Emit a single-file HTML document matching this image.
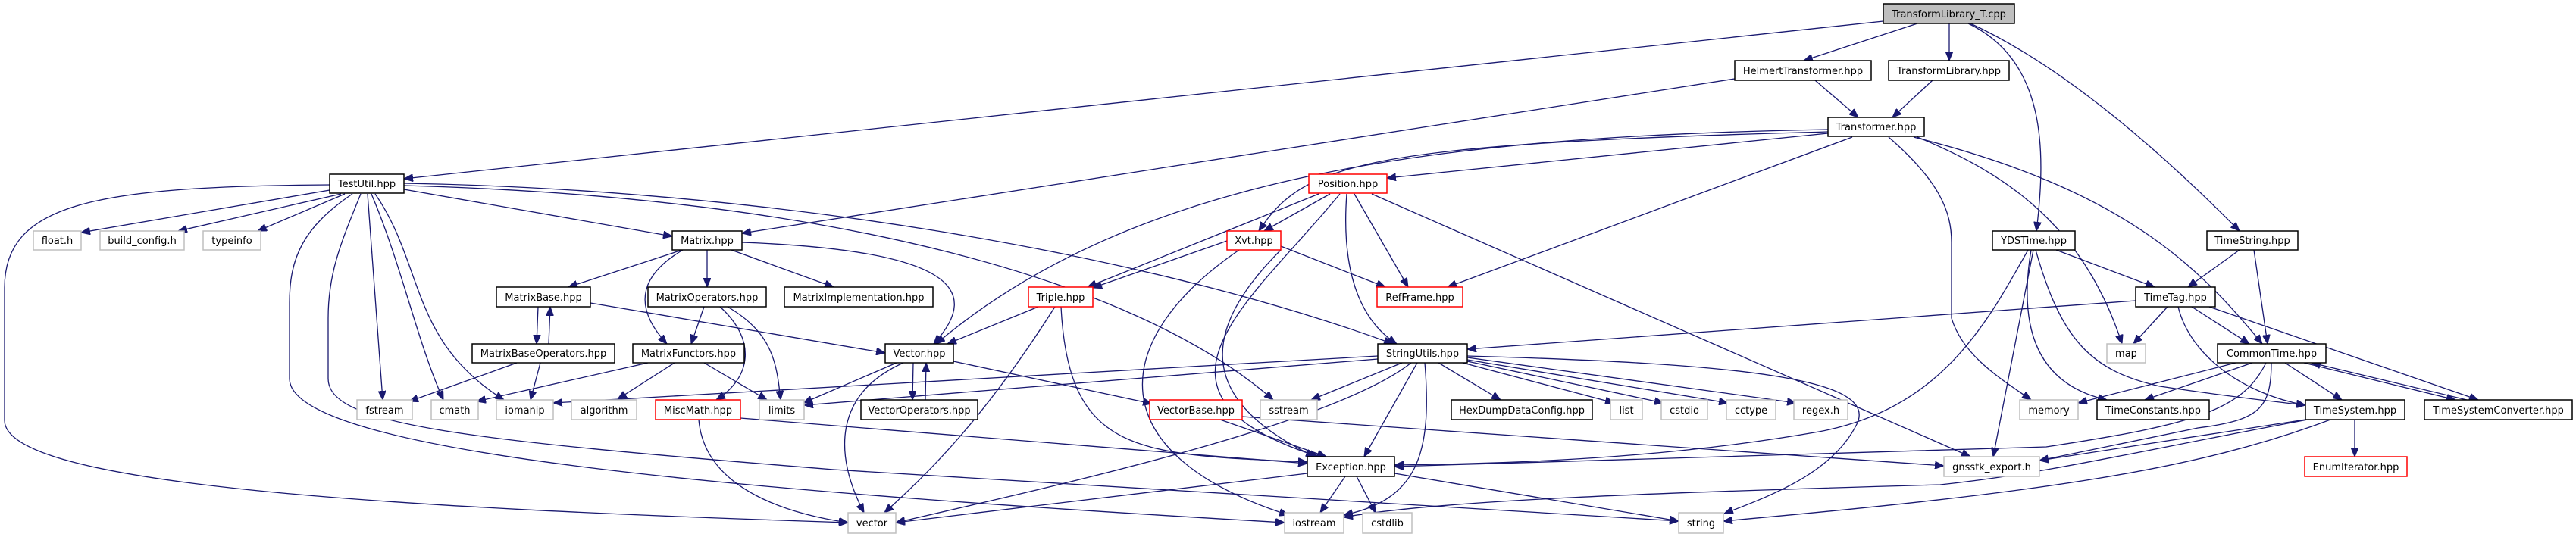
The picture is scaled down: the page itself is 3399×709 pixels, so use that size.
<!DOCTYPE html>
<html><head><meta charset="utf-8"><style>
html,body{margin:0;padding:0;background:#fff;}
svg{display:block;}
text{font-family:"DejaVu Sans","Liberation Sans",sans-serif;font-size:13px;fill:#000;}
.e{fill:none;stroke:#191970;stroke-width:1.3;marker-end:url(#a);}
.n{fill:#fff;stroke:#000;stroke-width:1.5;}
.r{fill:#fff;stroke:#ff0000;stroke-width:1.5;}
.g{fill:#fff;stroke:#bfbfbf;stroke-width:1.5;}
.root{fill:#bfbfbf;stroke:#000;stroke-width:1.5;}
</style></head><body>
<svg width="3399" height="709" viewBox="0 0 3399 709" xmlns="http://www.w3.org/2000/svg">
<defs><marker id="a" markerUnits="userSpaceOnUse" markerWidth="12" markerHeight="10" refX="12" refY="5" orient="auto"><path d="M0,0 L12,5 L0,10 z" fill="#191970" stroke="#191970"/></marker></defs>
<g>
<path class="e" d="M2485,28 L533,236"/>
<path class="e" d="M2530,31 L2380,80"/>
<path class="e" d="M2572,31 L2572,80"/>
<path class="e" d="M2597,31 C2700,80 2700,200 2687,305"/>
<path class="e" d="M2600,31 C2750,100 2900,250 2955,305"/>
<path class="e" d="M2289,104 L979,308"/>
<path class="e" d="M2395,106 L2452,155"/>
<path class="e" d="M2550,106 L2497,155"/>
<path class="e" d="M2412,171 C1900,180 1500,230 1235,454"/>
<path class="e" d="M2412,174 C1800,190 1720,215 1661,305"/>
<path class="e" d="M2412,176 L1830,235"/>
<path class="e" d="M2444,181 L1910,379"/>
<path class="e" d="M2492,181 C2560,240 2575,280 2575,320 L2575,420 C2590,470 2640,500 2680,528"/>
<path class="e" d="M2530,181 C2650,230 2750,300 2800,454"/>
<path class="e" d="M2525,181 C2800,250 2900,350 2985,454"/>
<path class="e" d="M435,251 L107,307"/>
<path class="e" d="M450,256 L235,305"/>
<path class="e" d="M455,256 L340,305"/>
<path class="e" d="M485,256 L505,528"/>
<path class="e" d="M490,256 C530,350 550,450 585,528"/>
<path class="e" d="M495,256 C560,350 540,450 665,528"/>
<path class="e" d="M435,244 C120,246 6,270 6,380 L6,555 C6,640 500,670 1119,690"/>
<path class="e" d="M465,256 C400,300 382,340 382,400 L382,500 C382,600 1000,650 1695,690"/>
<path class="e" d="M476,256 C450,320 433,360 433,420 L433,500 C433,560 600,580 1100,620 L2215,688"/>
<path class="e" d="M533,250 L887,312"/>
<path class="e" d="M533,242 C1000,250 1500,330 1838,454"/>
<path class="e" d="M533,245 C1100,260 1500,370 1680,528"/>
<path class="e" d="M1740,256 L1435,379"/>
<path class="e" d="M1755,256 L1668,305"/>
<path class="e" d="M1787,256 L1858,379"/>
<path class="e" d="M1777,256 C1770,350 1790,420 1843,454"/>
<path class="e" d="M1810,256 L2600,603"/>
<path class="e" d="M1768,256 C1650,400 1480,520 1740,603"/>
<path class="e" d="M1619,318 L1442,380"/>
<path class="e" d="M1690,325 L1828,379"/>
<path class="e" d="M1635,330 C1460,450 1450,600 1700,680"/>
<path class="e" d="M1690,330 C1600,420 1560,520 1735,603"/>
<path class="e" d="M900,330 L750,379"/>
<path class="e" d="M933,330 L933,379"/>
<path class="e" d="M965,330 L1100,379"/>
<path class="e" d="M901,330 C850,360 830,400 880,454"/>
<path class="e" d="M979,320 C1250,330 1300,380 1232,454"/>
<path class="e" d="M710,405 L708,454"/>
<path class="e" d="M724,454 L726,405"/>
<path class="e" d="M779,400 L1168,466"/>
<path class="e" d="M682,479 L540,530"/>
<path class="e" d="M713,479 L700,528"/>
<path class="e" d="M929,405 L912,454"/>
<path class="e" d="M950,405 C1000,450 990,500 945,528"/>
<path class="e" d="M960,405 C1020,440 1025,480 1030,528"/>
<path class="e" d="M855,479 L629,530"/>
<path class="e" d="M890,479 L815,527"/>
<path class="e" d="M929,479 L1012,528"/>
<path class="e" d="M1183,479 L1060,532"/>
<path class="e" d="M1192,479 C1100,520 1100,600 1140,677"/>
<path class="e" d="M1205,479 L1204,528"/>
<path class="e" d="M1221,528 L1222,479"/>
<path class="e" d="M1258,477 L1520,533"/>
<path class="e" d="M1370,405 L1250,454"/>
<path class="e" d="M1392,405 C1300,550 1230,620 1167,677"/>
<path class="e" d="M1400,405 C1410,600 1500,600 1725,610"/>
<path class="e" d="M922,554 C930,650 1050,680 1119,690"/>
<path class="e" d="M977,552 L1725,612"/>
<path class="e" d="M1610,554 L1750,603"/>
<path class="e" d="M1639,550 L2565,615"/>
<path class="e" d="M1850,479 L1730,528"/>
<path class="e" d="M1898,479 L1980,528"/>
<path class="e" d="M1930,479 L2130,532"/>
<path class="e" d="M1936,477 L2195,532"/>
<path class="e" d="M1936,475 L2280,532"/>
<path class="e" d="M1936,472 L2370,532"/>
<path class="e" d="M1936,470 C2300,480 2480,500 2450,560 C2420,620 2350,650 2275,678"/>
<path class="e" d="M1870,479 L1800,603"/>
<path class="e" d="M1862,479 C1760,560 1400,640 1182,690"/>
<path class="e" d="M1880,479 C1890,600 1870,660 1773,680"/>
<path class="e" d="M1818,470 L730,532"/>
<path class="e" d="M1818,474 L1061,535"/>
<path class="e" d="M1725,625 L1182,690"/>
<path class="e" d="M1775,629 L1742,677"/>
<path class="e" d="M1790,629 L1815,677"/>
<path class="e" d="M1840,625 L2215,688"/>
<path class="e" d="M2713,330 L2843,379"/>
<path class="e" d="M2676,330 C2620,430 2560,540 2400,570 C2200,605 2000,612 1840,614"/>
<path class="e" d="M2683,330 L2630,603"/>
<path class="e" d="M2680,330 C2660,450 2700,510 2780,528"/>
<path class="e" d="M2686,330 C2720,450 2760,490 2850,510 C2950,525 3000,530 3042,535"/>
<path class="e" d="M2955,330 L2887,379"/>
<path class="e" d="M2974,330 L2992,454"/>
<path class="e" d="M2818,397 L1936,461"/>
<path class="e" d="M2860,405 L2815,454"/>
<path class="e" d="M2892,405 L2968,454"/>
<path class="e" d="M2874,405 C2890,470 2960,520 3042,535"/>
<path class="e" d="M2915,405 L3270,528"/>
<path class="e" d="M2950,479 L2742,532"/>
<path class="e" d="M2972,479 L2830,528"/>
<path class="e" d="M3015,479 L3090,528"/>
<path class="e" d="M3040,479 L3240,528"/>
<path class="e" d="M3255,528 L3050,479"/>
<path class="e" d="M2990,479 C2960,540 2900,560 2700,590 L1840,616"/>
<path class="e" d="M2997,479 C2997,540 2980,555 2900,565 L2691,608"/>
<path class="e" d="M3042,554 L2691,608"/>
<path class="e" d="M3045,554 C2800,600 2700,625 2560,640 C2200,650 1900,660 1773,683"/>
<path class="e" d="M3075,554 C2900,620 2700,650 2274,688"/>
<path class="e" d="M3107,554 L3107,603"/>
</g>
<g text-anchor="middle">
<rect class="root" x="2485" y="5" width="173" height="26"/><text x="2571.5" y="23">TransformLibrary_T.cpp</text>
<rect class="n" x="2289" y="80" width="180" height="26"/><text x="2379" y="98">HelmertTransformer.hpp</text>
<rect class="n" x="2492" y="80" width="159" height="26"/><text x="2571.5" y="98">TransformLibrary.hpp</text>
<rect class="n" x="2412" y="155" width="127" height="25"/><text x="2475.5" y="172">Transformer.hpp</text>
<rect class="n" x="435" y="230" width="98" height="25"/><text x="484" y="247">TestUtil.hpp</text>
<rect class="r" x="1727" y="230" width="103" height="25"/><text x="1778.5" y="247">Position.hpp</text>
<rect class="g" x="44" y="305" width="63" height="25"/><text x="75.5" y="322">float.h</text>
<rect class="g" x="132" y="305" width="111" height="25"/><text x="187.5" y="322">build_config.h</text>
<rect class="g" x="268" y="305" width="76" height="25"/><text x="306" y="322">typeinfo</text>
<rect class="n" x="887" y="305" width="92" height="25"/><text x="933" y="322">Matrix.hpp</text>
<rect class="r" x="1619" y="305" width="71" height="25"/><text x="1654.5" y="322">Xvt.hpp</text>
<rect class="n" x="2629" y="305" width="109" height="25"/><text x="2683.5" y="322">YDSTime.hpp</text>
<rect class="n" x="2912" y="305" width="120" height="25"/><text x="2972" y="322">TimeString.hpp</text>
<rect class="n" x="655" y="379" width="124" height="26"/><text x="717" y="397">MatrixBase.hpp</text>
<rect class="n" x="855" y="379" width="156" height="26"/><text x="933" y="397">MatrixOperators.hpp</text>
<rect class="n" x="1035" y="379" width="196" height="26"/><text x="1133" y="397">MatrixImplementation.hpp</text>
<rect class="r" x="1357" y="379" width="85" height="26"/><text x="1399.5" y="397">Triple.hpp</text>
<rect class="r" x="1817" y="379" width="113" height="26"/><text x="1873.5" y="397">RefFrame.hpp</text>
<rect class="n" x="2818" y="379" width="105" height="26"/><text x="2870.5" y="397">TimeTag.hpp</text>
<rect class="n" x="623" y="454" width="188" height="25"/><text x="717" y="471">MatrixBaseOperators.hpp</text>
<rect class="n" x="835" y="454" width="147" height="25"/><text x="908.5" y="471">MatrixFunctors.hpp</text>
<rect class="n" x="1168" y="454" width="90" height="25"/><text x="1213" y="471">Vector.hpp</text>
<rect class="n" x="1818" y="454" width="118" height="25"/><text x="1877" y="471">StringUtils.hpp</text>
<rect class="g" x="2780" y="454" width="51" height="25"/><text x="2805.5" y="471">map</text>
<rect class="n" x="2926" y="454" width="143" height="25"/><text x="2997.5" y="471">CommonTime.hpp</text>
<rect class="g" x="471" y="528" width="73" height="26"/><text x="507.5" y="546">fstream</text>
<rect class="g" x="569" y="528" width="62" height="26"/><text x="600" y="546">cmath</text>
<rect class="g" x="655" y="528" width="75" height="26"/><text x="692.5" y="546">iomanip</text>
<rect class="g" x="754" y="528" width="86" height="26"/><text x="797" y="546">algorithm</text>
<rect class="r" x="865" y="528" width="112" height="26"/><text x="921" y="546">MiscMath.hpp</text>
<rect class="g" x="1002" y="528" width="59" height="26"/><text x="1031.5" y="546">limits</text>
<rect class="n" x="1136" y="528" width="154" height="26"/><text x="1213" y="546">VectorOperators.hpp</text>
<rect class="r" x="1517" y="528" width="122" height="26"/><text x="1578" y="546">VectorBase.hpp</text>
<rect class="g" x="1663" y="528" width="75" height="26"/><text x="1700.5" y="546">sstream</text>
<rect class="n" x="1915" y="528" width="186" height="26"/><text x="2008" y="546">HexDumpDataConfig.hpp</text>
<rect class="g" x="2125" y="528" width="42" height="26"/><text x="2146" y="546">list</text>
<rect class="g" x="2192" y="528" width="61" height="26"/><text x="2222.5" y="546">cstdio</text>
<rect class="g" x="2278" y="528" width="65" height="26"/><text x="2310.5" y="546">cctype</text>
<rect class="g" x="2367" y="528" width="71" height="26"/><text x="2402.5" y="546">regex.h</text>
<rect class="g" x="2665" y="528" width="77" height="26"/><text x="2703.5" y="546">memory</text>
<rect class="n" x="2767" y="528" width="148" height="26"/><text x="2841" y="546">TimeConstants.hpp</text>
<rect class="n" x="3042" y="528" width="131" height="26"/><text x="3107.5" y="546">TimeSystem.hpp</text>
<rect class="n" x="3199" y="528" width="195" height="26"/><text x="3296.5" y="546">TimeSystemConverter.hpp</text>
<rect class="n" x="1725" y="603" width="115" height="26"/><text x="1782.5" y="621">Exception.hpp</text>
<rect class="g" x="2565" y="603" width="126" height="26"/><text x="2628" y="621">gnsstk_export.h</text>
<rect class="r" x="3041" y="603" width="135" height="26"/><text x="3108.5" y="621">EnumIterator.hpp</text>
<rect class="g" x="1119" y="677" width="63" height="27"/><text x="1150.5" y="695">vector</text>
<rect class="g" x="1695" y="677" width="78" height="27"/><text x="1734" y="695">iostream</text>
<rect class="g" x="1798" y="677" width="65" height="27"/><text x="1830.5" y="695">cstdlib</text>
<rect class="g" x="2215" y="677" width="59" height="27"/><text x="2244.5" y="695">string</text>
</g>
</svg>
</body></html>
